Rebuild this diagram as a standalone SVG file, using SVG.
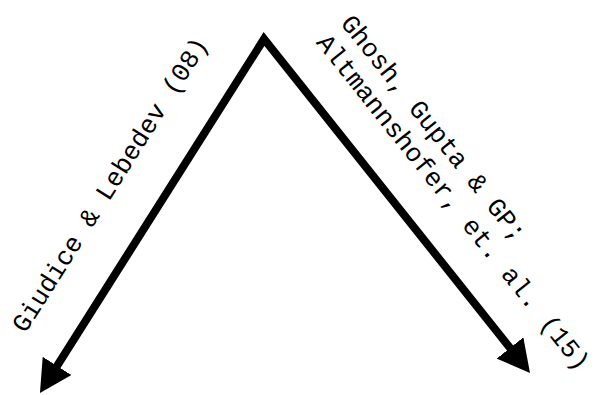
<svg xmlns="http://www.w3.org/2000/svg" width="596" height="395" viewBox="0 0 596 395">
<style>
.lbl{font-family:"Liberation Mono","Courier New",monospace;font-size:26px;fill:#000}
.conn{fill:none;stroke:#000;stroke-width:8;stroke-linejoin:miter}
</style>
<defs>
<marker id="ah" viewBox="0 0 32 34" refX="2" refY="17" markerWidth="32" markerHeight="34" markerUnits="userSpaceOnUse" orient="auto-start-reverse">
<path d="M0,0 L32,17 L0,34 Z" fill="#000"/>
</marker>
</defs>
<rect width="596" height="395" fill="#fff"/>
<g id="connectors">
<path class="conn" d="M56,367.6 L264,39 L511.3,349.5" marker-start="url(#ah)" marker-end="url(#ah)"/>
</g>
<g id="label-left">
<text class="lbl" transform="translate(25.3,334) rotate(-57.67)">Giudice &amp; Lebedev (08)</text>
</g>
<g id="label-right">
<text class="lbl" transform="translate(339.8,23.4) rotate(51.46)">Ghosh, Gupta &amp; GP;</text>
<text class="lbl" transform="translate(315.5,42.7) rotate(51.46)">Altmannshofer, et. al. (15)</text>
</g>
</svg>
